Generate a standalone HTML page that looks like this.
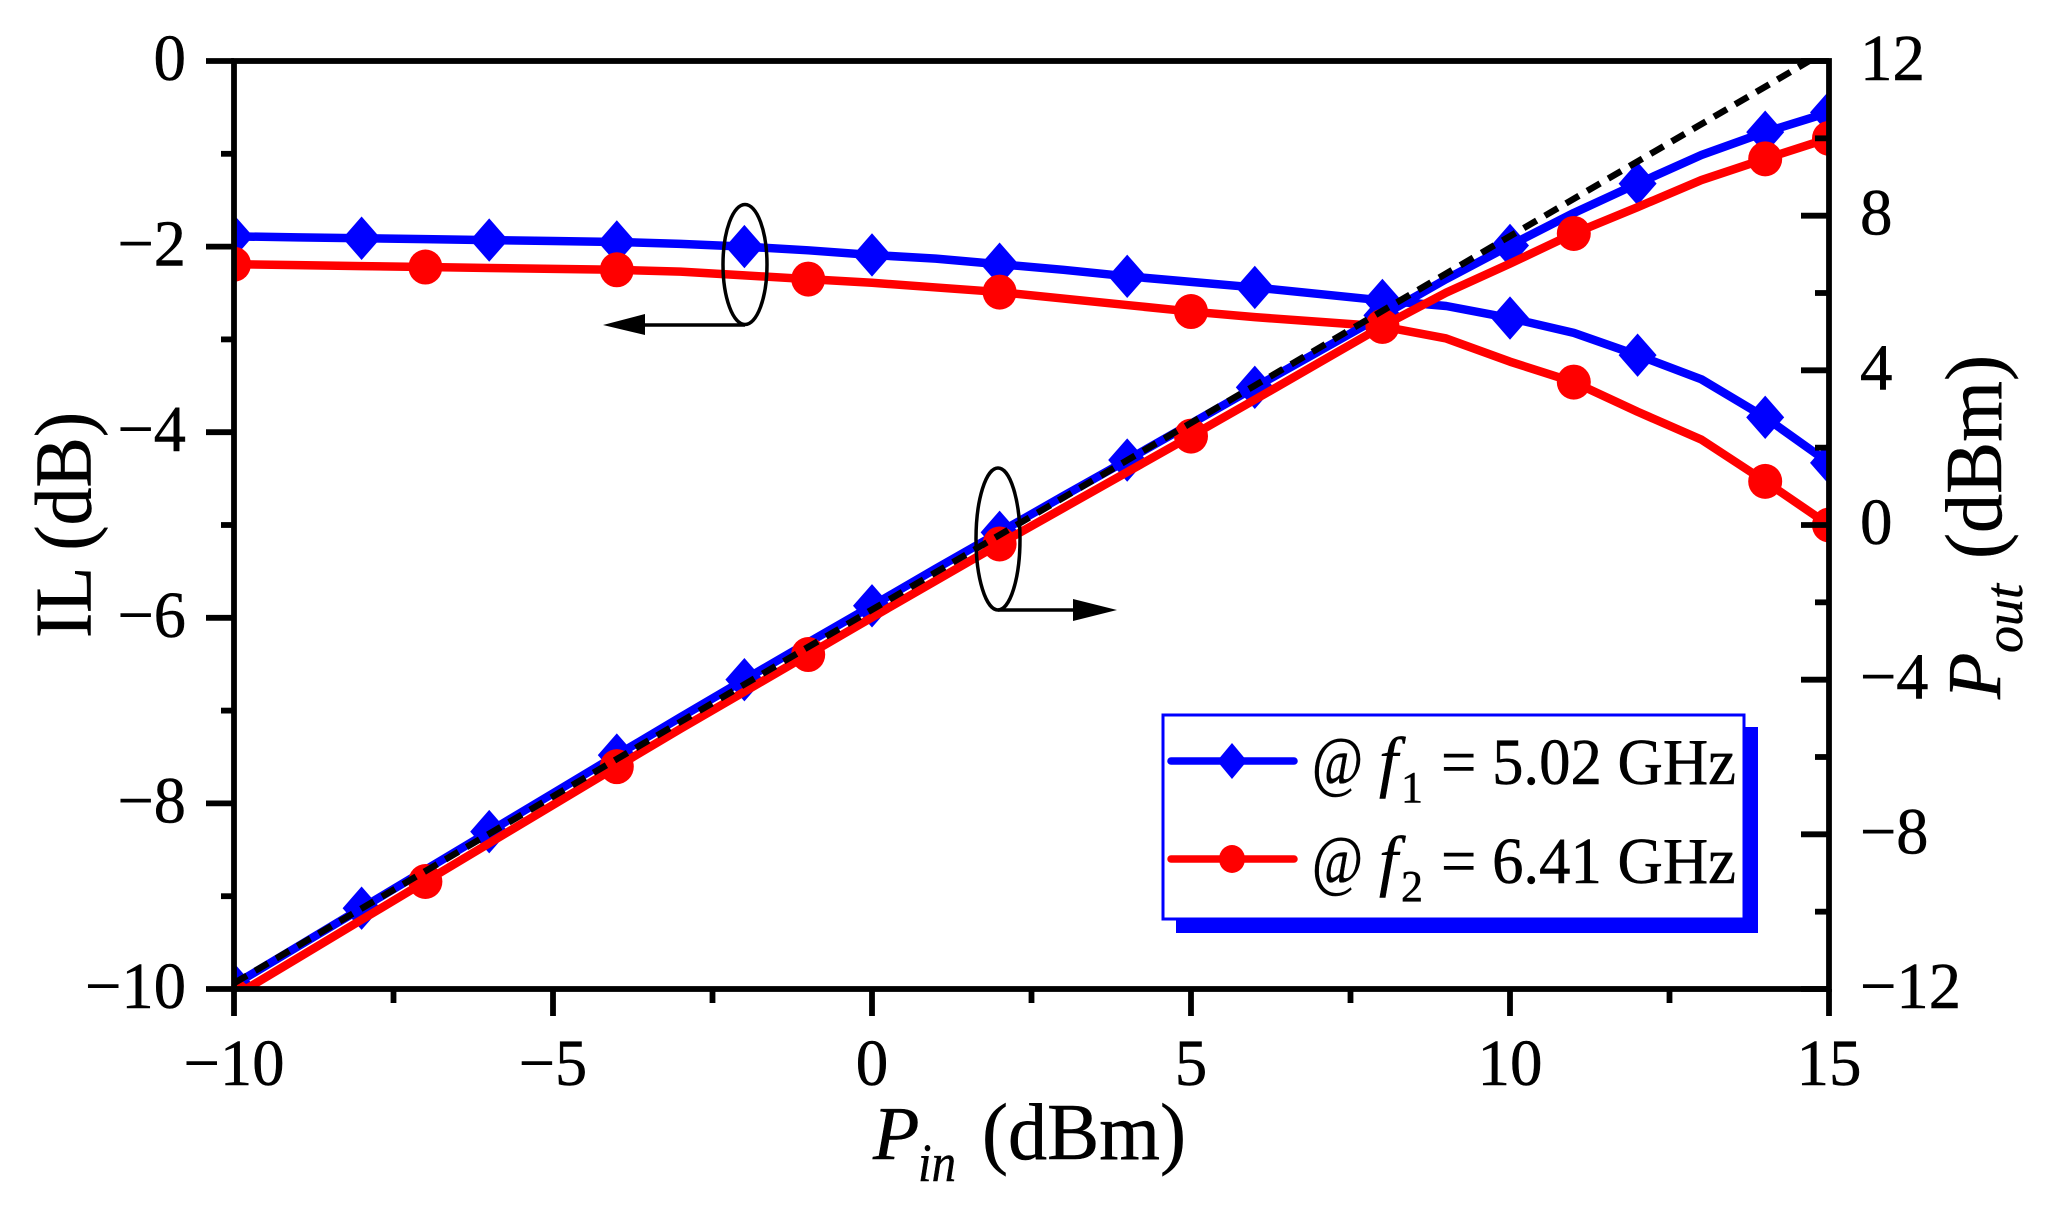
<!DOCTYPE html>
<html>
<head>
<meta charset="utf-8">
<title>IL and Pout versus Pin</title>
<style>
html,body{margin:0;padding:0;background:#fff;}
svg{display:block;}
text{font-family:"Liberation Serif","DejaVu Serif",serif;fill:#000;stroke:#000;stroke-width:0.5px;}
</style>
</head>
<body>
<svg id="chart" xmlns="http://www.w3.org/2000/svg" width="2048" height="1215" viewBox="0 0 2048 1215">
  <defs>
    <clipPath id="plot-clip"><rect x="234" y="61" width="1595" height="928"/></clipPath>
  </defs>
  <rect x="0" y="0" width="2048" height="1215" fill="#fff"/>
  <g id="series-layer" clip-path="url(#plot-clip)"></g>

  <g>
    <ellipse cx="745" cy="264.5" rx="22" ry="60" fill="none" stroke="#000" stroke-width="3.5"/>
    <line x1="745" y1="325" x2="640" y2="325" stroke="#000" stroke-width="3.5"/>
    <polygon points="603,325 645,314 645,335" fill="#000"/>
  </g>
  <g>
    <ellipse cx="998" cy="539" rx="22" ry="71" fill="none" stroke="#000" stroke-width="3.5"/>
    <line x1="998" y1="610" x2="1078" y2="610" stroke="#000" stroke-width="3.5"/>
    <polygon points="1117,610 1073,599 1073,621" fill="#000"/>
  </g>

  <g>
    <rect x="1176" y="727" width="582" height="206" fill="#0000ff"/>
    <rect x="1163" y="715" width="581" height="204" fill="#fff" stroke="#0000ff" stroke-width="3"/>
    <g>
      <line x1="1171" y1="761" x2="1294" y2="761" stroke="#0000ff" stroke-width="7.5" stroke-linecap="round"/>
      <polygon points="1232,743 1247,761 1232,779 1217,761" fill="#0000ff"/>
      <text x="1312" y="784" font-size="68" textLength="51" lengthAdjust="spacingAndGlyphs">@</text>
      <text x="1379" y="784" font-size="68" font-style="italic">f</text>
      <text x="1401" y="802" font-size="44">1</text>
      <text x="1441" y="784" font-size="66" textLength="295" lengthAdjust="spacingAndGlyphs">= 5.02 GHz</text>
    </g>
    <g>
      <line x1="1171" y1="859" x2="1294" y2="859" stroke="#ff0000" stroke-width="7.5" stroke-linecap="round"/>
      <ellipse cx="1232" cy="859" rx="13" ry="14" fill="#ff0000"/>
      <text x="1312" y="883" font-size="68" textLength="51" lengthAdjust="spacingAndGlyphs">@</text>
      <text x="1379" y="883" font-size="68" font-style="italic">f</text>
      <text x="1401" y="901" font-size="44">2</text>
      <text x="1441" y="883" font-size="66" textLength="295" lengthAdjust="spacingAndGlyphs">= 6.41 GHz</text>
    </g>
  </g>

  <g id="axes-layer"></g>

  <text transform="translate(90.5,638) rotate(-90)" font-size="80" textLength="226" lengthAdjust="spacingAndGlyphs">IL (dB)</text>
  <g>
    <text x="873" y="1159" font-size="76" font-style="italic">P</text>
    <text x="918" y="1181" font-size="54" font-style="italic" textLength="38" lengthAdjust="spacingAndGlyphs">in</text>
    <text x="982" y="1159" font-size="80" textLength="204" lengthAdjust="spacingAndGlyphs">(dBm)</text>
  </g>
  <g>
    <text transform="translate(2000,699) rotate(-90)" font-size="76" font-style="italic">P</text>
    <text transform="translate(2022,653) rotate(-90)" font-size="54" font-style="italic">out</text>
    <text transform="translate(2001,559) rotate(-90)" font-size="80" textLength="204" lengthAdjust="spacingAndGlyphs">(dBm)</text>
  </g>
</svg>
<script>
const pinValues = [-10,-9,-8,-7,-6,-5,-4,-3,-2,-1,0,1,2,3,4,5,6,7,8,9,10,11,12,13,14,15];
const ilF1 = [-1.89,-1.90,-1.91,-1.92,-1.93,-1.94,-1.95,-1.97,-2.00,-2.04,-2.09,-2.13,-2.19,-2.25,-2.32,-2.38,-2.44,-2.51,-2.58,-2.64,-2.77,-2.93,-3.17,-3.43,-3.84,-4.33];
const ilF2 = [-2.19,-2.20,-2.21,-2.22,-2.23,-2.24,-2.25,-2.27,-2.31,-2.35,-2.39,-2.44,-2.49,-2.56,-2.63,-2.70,-2.76,-2.81,-2.86,-2.99,-3.24,-3.46,-3.78,-4.08,-4.53,-5.00];
const poutF1 = [-11.89,-10.90,-9.91,-8.92,-7.93,-6.94,-5.95,-4.97,-4.00,-3.04,-2.09,-1.13,-0.19,0.75,1.68,2.62,3.56,4.49,5.42,6.36,7.23,8.07,8.83,9.57,10.16,10.67];
const poutF2 = [-12.19,-11.20,-10.21,-9.22,-8.23,-7.24,-6.25,-5.27,-4.31,-3.35,-2.39,-1.44,-0.49,0.44,1.37,2.30,3.24,4.19,5.14,6.01,6.76,7.54,8.22,8.92,9.47,10.00];
const markerPinF1 = [-10,-8,-6,-4,-2,0,2,4,6,8,10,12,14,15];
const markerPinF2 = [-10,-7,-4,-1,2,5,8,11,14,15];
const idealPin = [-10,15];
const idealPout = [-11.85,12.3];
const xMajorTicks = [-10,-5,0,5,10,15];
const xMinorTicks = [-7.5,-2.5,2.5,7.5,12.5];
const yLeftMajorTicks = [0,-2,-4,-6,-8,-10];
const yLeftMinorTicks = [-1,-3,-5,-7,-9];
const yRightMajorTicks = [12,8,4,0,-4,-8,-12];
const yRightMinorTicks = [10,6,2,-2,-6,-10];

const NS = 'http://www.w3.org/2000/svg';
const PLOT = {left:234, right:1829, top:61, bottom:989};
function xScale(v){ return PLOT.left + (v + 10) / 25 * (PLOT.right - PLOT.left); }
function yLeft(v){ return PLOT.top + (0 - v) / 10 * (PLOT.bottom - PLOT.top); }
function yRight(v){ return PLOT.top + (12 - v) / 24 * (PLOT.bottom - PLOT.top); }
function fmt(v){ return v < 0 ? '\u2212' + Math.abs(v) : String(v); }
function mk(tag, parent, attrs){
  const el = document.createElementNS(NS, tag);
  for (const k in attrs) el.setAttribute(k, attrs[k]);
  parent.appendChild(el);
  return el;
}
const seriesLayer = document.getElementById('series-layer');
const axesLayer = document.getElementById('axes-layer');

function drawLine(xs, ys, yFn, color, name){
  const pts = xs.map((x, i) => xScale(x).toFixed(2) + ',' + yFn(ys[i]).toFixed(2)).join(' ');
  const el = mk('polyline', seriesLayer, {points: pts, fill: 'none', stroke: color, 'stroke-width': 8.5, 'stroke-linejoin': 'round'});
  
  
}
function drawDiamonds(pins, ys, yFn, name){
  pins.forEach(p => {
    const cx = xScale(p), cy = yFn(ys[pinValues.indexOf(p)]);
    const pts = [[cx, cy - 21.7], [cx + 19, cy], [cx, cy + 21.7], [cx - 19, cy]].map(a => a[0].toFixed(2) + ',' + a[1].toFixed(2)).join(' ');
    const el = mk('polygon', seriesLayer, {points: pts, fill: '#0000ff'});
    
    
  });
}
function drawCircles(pins, ys, yFn, name){
  pins.forEach(p => {
    const el = mk('ellipse', seriesLayer, {cx: xScale(p).toFixed(2), cy: yFn(ys[pinValues.indexOf(p)]).toFixed(2), rx: 17, ry: 17.5, fill: '#ff0000'});
    
    
  });
}

drawLine(pinValues, ilF1, yLeft, '#0000ff', 'il-line-f1');
drawDiamonds(markerPinF1, ilF1, yLeft, 'il-marker-f1');
drawLine(pinValues, ilF2, yLeft, '#ff0000', 'il-line-f2');
drawCircles(markerPinF2, ilF2, yLeft, 'il-marker-f2');
drawLine(pinValues, poutF1, yRight, '#0000ff', 'pout-line-f1');
drawDiamonds(markerPinF1, poutF1, yRight, 'pout-marker-f1');
drawLine(pinValues, poutF2, yRight, '#ff0000', 'pout-line-f2');
drawCircles(markerPinF2, poutF2, yRight, 'pout-marker-f2');

const ideal = mk('polyline', seriesLayer, {
  points: idealPin.map((x, i) => xScale(x).toFixed(2) + ',' + yRight(idealPout[i]).toFixed(2)).join(' '),
  fill: 'none', stroke: '#000', 'stroke-width': 6.5, 'stroke-dasharray': '15 9.5'
});



function tick(x1, y1, x2, y2, name){
  const el = mk('line', axesLayer, {x1, y1, x2, y2, stroke: '#000', 'stroke-width': 5.8});
  
  
}
function label(x, y, txt, anchor, name){
  const digits = txt.replace('\u2212', '').length;
  const natural = digits * 32.5 + (txt.length > digits ? 36 : 0);
  const el = mk('text', axesLayer, {x, y, 'font-size': 66, 'text-anchor': anchor, textLength: natural.toFixed(1), lengthAdjust: 'spacingAndGlyphs'});
  el.textContent = txt;
  
  
}

const frame = mk('rect', axesLayer, {x: PLOT.left, y: PLOT.top, width: PLOT.right - PLOT.left, height: PLOT.bottom - PLOT.top, fill: 'none', stroke: '#000', 'stroke-width': 5.8});



xMajorTicks.forEach(v => {
  tick(xScale(v), PLOT.bottom, xScale(v), 1016, 'x-major-tick');
  label(xScale(v), 1085, fmt(v), 'middle', 'x-tick-label');
});
xMinorTicks.forEach(v => {
  tick(xScale(v), PLOT.bottom, xScale(v), 1003, 'x-minor-tick');
});
yLeftMajorTicks.forEach(v => {
  tick(206, yLeft(v), PLOT.left, yLeft(v), 'y-left-major-tick');
  label(186, yLeft(v) + 19, fmt(v), 'end', 'y-left-tick-label');
});
yLeftMinorTicks.forEach(v => {
  tick(221, yLeft(v), PLOT.left, yLeft(v), 'y-left-minor-tick');
});
yRightMajorTicks.forEach(v => {
  tick(1801, yRight(v), PLOT.right, yRight(v), 'y-right-major-tick');
  label(1860, yRight(v) + 19, fmt(v), 'start', 'y-right-tick-label');
});
yRightMinorTicks.forEach(v => {
  tick(1815, yRight(v), PLOT.right, yRight(v), 'y-right-minor-tick');
});
</script>
</body>
</html>
